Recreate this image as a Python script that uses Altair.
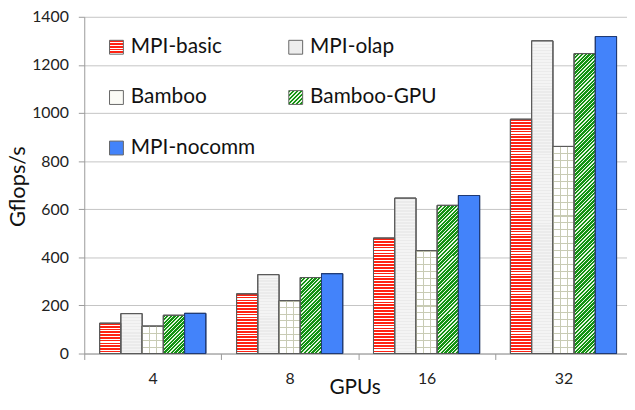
import json
import math
import altair as alt
import pandas as pd

# ---------------- data ----------------
groups = ["4", "8", "16", "32"]
series = ["MPI-basic", "MPI-olap", "Bamboo", "Bamboo-GPU", "MPI-nocomm"]
mpi_basic = [126, 248, 480, 974]
mpi_olap = [166, 328, 646, 1300]
bamboo = [114, 220, 428, 861]
bamboo_gpu = [159, 316, 616, 1247]
mpi_nocomm = [167, 332, 657, 1318]
y_ticks = [0, 200, 400, 600, 800, 1000, 1200, 1400]
# legend reads row by row: MPI-basic, MPI-olap / Bamboo, Bamboo-GPU / MPI-nocomm
legend_order = ["MPI-basic", "Bamboo", "MPI-nocomm", "MPI-olap", "Bamboo-GPU"]

# ---------------- style ----------------
FONT = "Lato"
PLOT_W, PLOT_H = 548, 340
Y_MAX = 1400
BAR_W = 21.4
RED, GREEN, BLUE = "#ff2212", "#139313", "#4383fa"


def stripe_stops(c1, c2, n, frac):
    stops = []
    for i in range(n):
        a, b, c = i / n, (i + frac) / n, (i + 1) / n
        stops += [{"offset": a, "color": c1}, {"offset": b, "color": c1},
                  {"offset": b, "color": c2}, {"offset": c, "color": c2}]
    return stops


def hstripes(c1, c2, h, period, frac):
    n = max(1, round(h / period))
    return {"gradient": "linear", "x1": 0, "y1": 0, "x2": 0, "y2": 1,
            "stops": stripe_stops(c1, c2, n, frac)}


def vstripes(c1, c2, w, period, frac):
    n = max(1, round(w / period))
    return {"gradient": "linear", "x1": 0, "y1": 0, "x2": 1, "y2": 0,
            "stops": stripe_stops(c1, c2, n, frac)}


def diag(c1, c2, w, h, period, frac):
    k = (w + h) / (w * w + h * h)
    n = max(1, round((w + h) / (math.sqrt(2) * period)))
    return {"gradient": "linear", "x1": 0, "y1": 0, "x2": w * k, "y2": h * k,
            "stops": stripe_stops(c1, c2, n, frac)}


def fill_for(s, v):
    h = v * PLOT_H / Y_MAX
    if s == "MPI-basic":
        return hstripes(RED, "#ffffff", h, 2.9, 0.6)
    if s == "MPI-olap":
        return hstripes("#ebebeb", "#f4f4f4", h, 3, 0.5)
    if s == "Bamboo":
        return hstripes("#c8cbb4", "#ffffff", h, 7, 0.15)
    if s == "Bamboo-GPU":
        return diag(GREEN, "#e6f5e0", BAR_W, h, 2.7, 0.65)
    return BLUE


def overlay_for(s, v):
    if s == "Bamboo":
        return vstripes("#c8cbb4", "rgba(255,255,255,0)", BAR_W, 7, 0.15)
    return "rgba(255,255,255,0)"


values = {"MPI-basic": mpi_basic, "MPI-olap": mpi_olap, "Bamboo": bamboo,
          "Bamboo-GPU": bamboo_gpu, "MPI-nocomm": mpi_nocomm}
rows = []
for s in series:
    for g, v in zip(groups, values[s]):
        rows.append({"gpus": g, "series": s, "gflops": v,
                     "grad": fill_for(s, v), "over": overlay_for(s, v),
                     "edge": "#1f3b75" if s == "MPI-nocomm" else "#5a5a5a"})
df = pd.DataFrame(rows)

legend_fill_of = {
    "MPI-basic": hstripes(RED, "#ffffff", 14, 2.9, 0.6),
    "MPI-olap": "#ededed",
    "Bamboo": hstripes("#d0d3c0", "#fbfbf6", 14, 7, 0.12),
    "Bamboo-GPU": diag(GREEN, "#e6f5e0", 14, 14, 2.7, 0.65),
    "MPI-nocomm": BLUE,
}
legend_range = [alt.ExprRef(expr=json.dumps(legend_fill_of[s])) for s in legend_order]

x_enc = alt.X("gpus:N", sort=groups, title="GPUs",
              scale=alt.Scale(paddingInner=0, paddingOuter=0, range=[0, 553]),
              axis=alt.Axis(labelAngle=0, tickBand="extent", tickSize=6,
                            domainColor="#9a9a9a", tickColor="#9a9a9a",
                            labelPadding=11,
                            titleX=273, titleY=40, titleBaseline="alphabetic",
                            labelFontSize=16, titleFontSize=21,
                            labelColor="#222", titleColor="#111",
                            labelFont=FONT, titleFont=FONT,
                            titleFontWeight="normal", grid=False))
xo_enc = alt.XOffset("series:N", sort=series,
                     scale=alt.Scale(paddingInner=0, paddingOuter=0.725))
y_enc = alt.Y("gflops:Q", title="Gflops/s",
              scale=alt.Scale(domain=[0, Y_MAX], nice=False),
              axis=alt.Axis(values=y_ticks, format="d", tickSize=6, grid=True,
                            gridColor="#c4c4c4", gridWidth=1,
                            domainColor="#9a9a9a", tickColor="#9a9a9a",
                            labelPadding=10,
                            titleX=-60, titleY=171, titleBaseline="alphabetic",
                            labelFontSize=16, titleFontSize=22,
                            labelColor="#222", titleColor="#111",
                            labelFont=FONT, titleFont=FONT,
                            titleFontWeight="normal"))

legend_layer = alt.Chart(df).mark_bar(stroke="#5a5a5a", strokeWidth=1).encode(
    x=x_enc, xOffset=xo_enc, y=y_enc,
    fill=alt.Fill("series:N",
                  scale=alt.Scale(domain=legend_order, range=legend_range),
                  legend=alt.Legend(title=None, orient="none", legendX=22,
                                    legendY=20, columns=2, columnPadding=30,
                                    rowPadding=29, symbolType="square",
                                    symbolSize=196, symbolStrokeColor="#666",
                                    symbolStrokeWidth=1, labelFontSize=21,
                                    labelFont=FONT, labelColor="#111",
                                    labelOffset=4, padding=0,
                                    labelLimit=300)),
)

bars = alt.Chart(df).mark_bar(strokeWidth=1).encode(
    x=x_enc, xOffset=xo_enc, y=y_enc,
    fill=alt.Color("grad:N", scale=None, legend=None),
    stroke=alt.Stroke("edge:N", scale=None, legend=None),
)

overlay = alt.Chart(df).mark_bar(strokeWidth=1).encode(
    x=x_enc, xOffset=xo_enc, y=y_enc,
    fill=alt.Color("over:N", scale=None, legend=None),
    stroke=alt.Stroke("edge:N", scale=None, legend=None),
)

chart = alt.layer(legend_layer, bars, overlay).properties(
    width=PLOT_W, height=PLOT_H,
    autosize=alt.AutoSizeParams(type="none"),
    padding={"left": 77, "top": 7, "right": 0, "bottom": 41},
).configure_view(stroke=None).configure_axis(labelFont=FONT, titleFont=FONT)

chart.save("out.html", embed_options={"renderer": "svg", "actions": False})
